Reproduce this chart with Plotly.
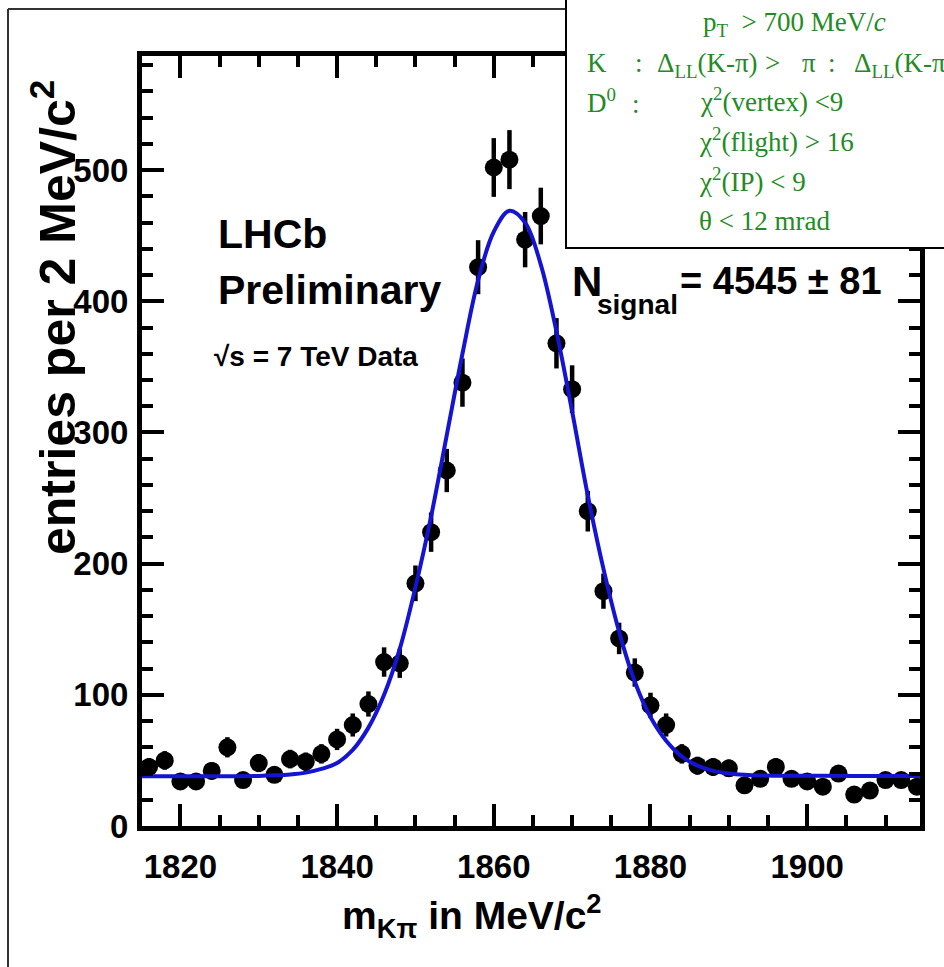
import plotly.graph_objects as go

# ---------------- data ----------------
mass = [1816, 1818, 1820, 1822, 1824, 1826, 1828, 1830, 1832, 1834,
        1836, 1838, 1840, 1842, 1844, 1846, 1848, 1850, 1852, 1854,
        1856, 1858, 1860, 1862, 1864, 1866, 1868, 1870, 1872, 1874,
        1876, 1878, 1880, 1882, 1884, 1886, 1888, 1890, 1892, 1894,
        1896, 1898, 1900, 1902, 1904, 1906, 1908, 1910, 1912, 1914]
counts = [45, 50, 34, 34, 42, 60, 35, 48, 39, 51,
          49, 55, 66, 77, 93, 125, 124, 185, 224, 271,
          338, 426, 502, 508, 447, 465, 368, 333, 240, 179,
          143, 117, 92, 77, 55, 46, 45, 44, 31, 36,
          45, 36, 34, 30, 40, 24, 27, 35, 35, 30]
errors = [6.7, 7.1, 5.8, 5.8, 6.5, 7.7, 5.9, 6.9, 6.2, 7.1,
          7.0, 7.4, 8.1, 8.8, 9.6, 11.2, 11.1, 13.6, 15.0, 16.5,
          18.4, 20.6, 22.4, 22.5, 21.1, 21.6, 19.2, 18.2, 15.5, 13.4,
          12.0, 10.8, 9.6, 8.8, 7.4, 6.8, 6.7, 6.6, 5.6, 6.0,
          6.7, 6.0, 5.8, 5.5, 6.3, 4.9, 5.2, 5.9, 5.9, 5.5]

fit_mass = [1815, 1818, 1822, 1826, 1830, 1832, 1834, 1836, 1838, 1840,
            1842, 1844, 1846, 1848, 1850, 1852, 1854, 1856, 1858, 1860,
            1862, 1864, 1866, 1868, 1870, 1872, 1874, 1876, 1878, 1880,
            1882, 1884, 1886, 1888, 1890, 1892, 1894, 1900, 1906, 1915]
fit_counts = [38, 38, 38, 38, 38.2, 38.6, 39.3, 40.7, 43.5, 48,
              58, 75, 100, 135, 182, 236, 298, 360, 416, 453,
              469, 460, 428, 377, 316, 252, 196, 148, 110, 83,
              65, 53, 46, 42, 40, 39, 38.5, 38.3, 38.2, 38.2]

x_ticks = [1820, 1840, 1860, 1880, 1900]
y_ticks = [0, 100, 200, 300, 400, 500]

# ---------------- layout helpers ----------------
W, H = 944, 967
L, R, T, B = 142, 920, 56, 826


def px(x):
    return (x - L) / (R - L)


def py(y):
    return (B - y) / (B - T)


SANS = "Liberation Sans, Arial, Helvetica, sans-serif"
SERIF = "Liberation Serif, Times New Roman, serif"
GREEN = "#238b23"
NB = "\u00a0"

fig = go.Figure()
fig.add_trace(go.Scatter(
    x=mass, y=counts, mode="markers",
    marker=dict(color="black", size=18),
    error_y=dict(type="data", array=errors, color="black", thickness=4.5, width=0),
    showlegend=False, hoverinfo="skip"))
fig.add_trace(go.Scatter(
    x=fit_mass, y=fit_counts, mode="lines",
    line=dict(color="#1414d2", width=4, shape="spline"),
    showlegend=False, hoverinfo="skip"))

axis_common = dict(
    showline=True, linewidth=5, linecolor="black", mirror="allticks",
    ticks="inside", ticklen=22, tickwidth=4, tickcolor="black",
    showgrid=False, zeroline=False,
    tickfont=dict(family=SANS, size=33, color="black", weight="bold"),
)

fig.update_layout(
    width=W, height=H,
    margin=dict(l=L, r=W - R, t=T, b=H - B),
    paper_bgcolor="white", plot_bgcolor="white",
    xaxis=dict(range=[1815.1, 1914.4], tickmode="array", tickvals=x_ticks,
               minor=dict(dtick=5, tick0=1820, ticks="inside", ticklen=11,
                          tickwidth=4, tickcolor="black"),
               ticklabelstandoff=7, **axis_common),
    yaxis=dict(range=[0, 587], tickmode="array", tickvals=y_ticks,
               minor=dict(dtick=20, tick0=0, ticks="inside", ticklen=11,
                          tickwidth=4, tickcolor="black"),
               ticklabelstandoff=2, **axis_common),
)

shapes = [
    # outer window border
    dict(type="line", xref="paper", yref="paper", x0=px(8), x1=px(8), y0=py(9), y1=py(970),
         line=dict(color="#333333", width=2), layer="above"),
    dict(type="line", xref="paper", yref="paper", x0=px(8), x1=px(566), y0=py(9), y1=py(9),
         line=dict(color="#333333", width=2), layer="above"),
    # cut box
    dict(type="rect", xref="paper", yref="paper", x0=px(566), x1=px(960), y0=py(248), y1=py(-10),
         fillcolor="white", line=dict(color="black", width=2), layer="above"),
]
fig.update_layout(shapes=shapes)


def ann(text, x, y, size, family=SANS, color="black", bold=True, xanchor="left", yanchor="middle", angle=0):
    fig.add_annotation(text=text, xref="paper", yref="paper", x=px(x), y=py(y),
                       xanchor=xanchor, yanchor=yanchor, showarrow=False, textangle=angle,
                       font=dict(family=family, size=size, color=color,
                                 weight="bold" if bold else "normal"))


# axis titles
ann("m<sub>Kπ</sub> in MeV/c<sup>2</sup>", 472, 916, 39, xanchor="center")
ann("entries per 2 MeV/c<sup>2</sup>", 54, 318, 50, xanchor="center", angle=-90)

# plot labels
ann("LHCb", 216, 234, 41)
ann("Preliminary", 216, 290, 41)
ann("√s = 7 TeV Data", 212, 356, 28)
ann("N", 570, 281, 42)
ann("signal", 595, 304, 28)
ann("= 4545 ± 81", 678, 281, 38)

# selection box (green serif text)
ann("p<sub>T</sub>" + NB + NB + "&gt; 700 MeV/<i>c</i>", 701, 24, 27, family=SERIF, color=GREEN, bold=False)
ann("K", 585, 63, 27, family=SERIF, color=GREEN, bold=False)
ann(":", 633, 63, 27, family=SERIF, color=GREEN, bold=False)
ann("Δ<sub>LL</sub>(K-π)", 655, 65, 27, family=SERIF, color=GREEN, bold=False)
ann("&gt;", 763, 63, 27, family=SERIF, color=GREEN, bold=False)
ann("π", 800, 63, 27, family=SERIF, color=GREEN, bold=False)
ann(":", 826, 63, 27, family=SERIF, color=GREEN, bold=False)
ann("Δ<sub>LL</sub>(K-π", 852, 65, 27, family=SERIF, color=GREEN, bold=False)
ann("D<sup>0</sup>", 585, 101, 27, family=SERIF, color=GREEN, bold=False)
ann(":", 630, 104, 27, family=SERIF, color=GREEN, bold=False)
ann("χ<sup>2</sup>(vertex) &lt;9", 698, 100, 27, family=SERIF, color=GREEN, bold=False)
ann("χ<sup>2</sup>(flight) &gt; 16", 697, 140, 27, family=SERIF, color=GREEN, bold=False)
ann("χ<sup>2</sup>(IP) &lt; 9", 697, 180, 27, family=SERIF, color=GREEN, bold=False)
ann("θ &lt; 12 mrad", 697, 221, 27, family=SERIF, color=GREEN, bold=False)

fig.write_html("out.html")
